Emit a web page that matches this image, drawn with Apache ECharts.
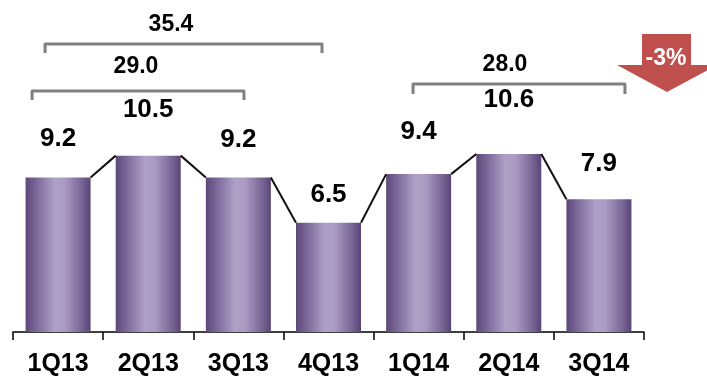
<!DOCTYPE html>
<html><head><meta charset="utf-8">
<script src="https://cdn.jsdelivr.net/npm/echarts@6/dist/echarts.min.js"></script>
<style>html,body{margin:0;padding:0;background:#fff}#c{width:707px;height:377px}</style>
</head><body><div id="c"></div>
<script>
// ---- data ----
const categories = ['1Q13', '2Q13', '3Q13', '4Q13', '1Q14', '2Q14', '3Q14'];
const values = [9.2, 10.5, 9.2, 6.5, 9.4, 10.6, 7.9];
const bracketLabels = ['35.4', '29.0', '28.0'];
const bracketFrom = [0, 0, 4];
const bracketTo = [3, 2, 6];
const changeLabel = '-3%';

// ---- layout / style (pixels) ----
const FONT = '"Liberation Sans", Arial, sans-serif';
const BAR_W = 65;
const labelDist = [25.5, 32.5, 24.5, 14.5, 29, 41, 22];
const bracketLayout = [
  { l: -13, r: -6.5, y: 44, leg: 9, tx: 171, ty: 25 },
  { l: -26, r: 5.6, y: 91, leg: 9, tx: 136, ty: 67 },
  { l: -5.6, r: 26, y: 84, leg: 10, tx: 505, ty: 65 }
];

const chart = echarts.init(document.getElementById('c'), null, { renderer: 'canvas' });

const barGrad = new echarts.graphic.LinearGradient(0, 0, 1, 0, [
  { offset: 0, color: '#5c4878' },
  { offset: 0.18, color: '#7d6b9c' },
  { offset: 0.45, color: '#afa0c7' },
  { offset: 0.6, color: '#ab9bc3' },
  { offset: 0.85, color: '#7a6898' },
  { offset: 1, color: '#5a4676' }
]);

chart.setOption({
  animation: false,
  backgroundColor: '#ffffff',
  grid: { left: 13, right: 63, top: 0, bottom: 41 },
  xAxis: {
    type: 'category',
    data: categories,
    axisLine: { lineStyle: { color: '#000', width: 1.5 } },
    axisTick: { show: true, length: 8, lineStyle: { color: '#000', width: 1.5 } },
    axisLabel: { margin: 20, color: '#000', fontSize: 25, fontWeight: 'bold', fontFamily: FONT }
  },
  yAxis: {
    type: 'value', min: 0, max: 336 / 17,
    show: false, splitLine: { show: false }
  },
  series: [
    {
      type: 'bar',
      barWidth: BAR_W,
      data: values.map((v, i) => ({
        value: v,
        label: { distance: labelDist[i] }
      })),
      itemStyle: { color: barGrad },
      label: {
        show: true, position: 'top', color: '#000',
        fontSize: 26, fontWeight: 'bold', fontFamily: FONT,
        formatter: p => p.value.toFixed(1)
      },
      z: 2
    },
    {
      type: 'custom',
      data: values.slice(0, -1).map((v, i) => [i, v, values[i + 1]]),
      encode: { x: 0, y: 1 },
      renderItem: function (params, api) {
        const i = api.value(0);
        const p1 = api.coord([i, api.value(1)]);
        const p2 = api.coord([i + 1, api.value(2)]);
        return {
          type: 'line',
          shape: { x1: p1[0] + BAR_W / 2, y1: p1[1], x2: p2[0] - BAR_W / 2, y2: p2[1] },
          style: { stroke: '#111', lineWidth: 2 }
        };
      },
      z: 3
    }
  ]
});

// annotations: brackets + change arrow
const g = [];
bracketLabels.forEach((lab, k) => {
  const L = bracketLayout[k];
  const x1 = chart.convertToPixel({ xAxisIndex: 0 }, bracketFrom[k]) + L.l;
  const x2 = chart.convertToPixel({ xAxisIndex: 0 }, bracketTo[k]) + L.r;
  g.push({
    type: 'polyline',
    shape: { points: [[x1, L.y + L.leg], [x1, L.y], [x2, L.y], [x2, L.y + L.leg]] },
    style: { stroke: '#808080', lineWidth: 3, fill: null, lineJoin: 'round' }
  });
  g.push({
    type: 'text', x: L.tx, y: L.ty,
    style: { text: lab, fill: '#000', font: 'bold 23px ' + FONT, align: 'center', verticalAlign: 'middle' }
  });
});
g.push({
  type: 'polygon',
  shape: { points: [[642, 34], [691, 34], [691, 65], [717, 65], [667, 92], [617, 65], [642, 65]] },
  style: { fill: '#c0504d' }
});
g.push({
  type: 'text', x: 666, y: 59,
  style: { text: changeLabel, fill: '#fff', font: 'bold 23px ' + FONT, align: 'center', verticalAlign: 'middle' }
});
chart.setOption({ graphic: g });
</script>
</body></html>
